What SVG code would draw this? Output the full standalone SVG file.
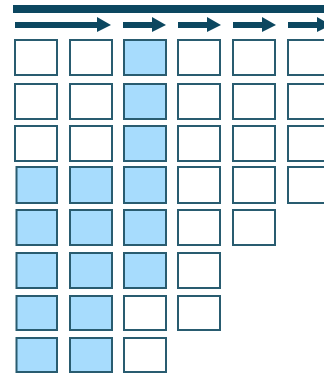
<svg xmlns="http://www.w3.org/2000/svg" width="324" height="375" viewBox="0 0 324 375">
<defs>
<style>
.b{stroke:#295c70;stroke-width:2;fill:#fff}
.f{fill:#a7dcfd}
.a{fill:#0c4760}
</style>
</defs>
<rect width="324" height="375" fill="#fff"/>
<g id="connectors">
<rect class="a" x="13" y="5" width="320" height="8"/>
<path class="a" d="M15 22H97V17L111 25L97 32V28H15Z"/>
<path class="a" d="M123 22H152V17L166 25L152 32V28H123Z"/>
<path class="a" d="M178 22H207V17L221 25L207 32V28H178Z"/>
<path class="a" d="M233 22H262V17L276 25L262 32V28H233Z"/>
<path class="a" d="M288 22H317V17L331 25L317 32V28H288Z"/>
</g>
<g id="row1">
<rect id="r1c1" class="b" x="15" y="40" width="42" height="35"/>
<rect id="r1c2" class="b" x="70" y="40" width="42" height="35"/>
<rect id="r1c3" class="b f" x="124" y="40" width="42" height="35"/>
<rect id="r1c4" class="b" x="178" y="40" width="42" height="35"/>
<rect id="r1c5" class="b" x="233" y="40" width="42" height="35"/>
<rect id="r1c6" class="b" x="288" y="40" width="42" height="35"/>
</g>
<g id="row2">
<rect id="r2c1" class="b" x="15" y="84" width="42" height="35"/>
<rect id="r2c2" class="b" x="70" y="84" width="42" height="35"/>
<rect id="r2c3" class="b f" x="124" y="84" width="42" height="35"/>
<rect id="r2c4" class="b" x="178" y="84" width="42" height="35"/>
<rect id="r2c5" class="b" x="233" y="84" width="42" height="35"/>
<rect id="r2c6" class="b" x="288" y="84" width="42" height="35"/>
</g>
<g id="row3">
<rect id="r3c1" class="b" x="15" y="126" width="42" height="35"/>
<rect id="r3c2" class="b" x="70" y="126" width="42" height="35"/>
<rect id="r3c3" class="b f" x="124" y="126" width="42" height="35"/>
<rect id="r3c4" class="b" x="178" y="126" width="42" height="35"/>
<rect id="r3c5" class="b" x="233" y="126" width="42" height="35"/>
<rect id="r3c6" class="b" x="288" y="126" width="42" height="35"/>
</g>
<g id="row4">
<rect id="r4c1" class="b f" x="16.5" y="167" width="40.5" height="36"/>
<rect id="r4c2" class="b f" x="70" y="167" width="42" height="36"/>
<rect id="r4c3" class="b f" x="124" y="167" width="42" height="36"/>
<rect id="r4c4" class="b" x="178" y="167" width="42" height="36"/>
<rect id="r4c5" class="b" x="233" y="167" width="42" height="36"/>
<rect id="r4c6" class="b" x="288" y="167" width="42" height="36"/>
</g>
<g id="row5">
<rect id="r5c1" class="b f" x="16.5" y="210" width="40.5" height="35"/>
<rect id="r5c2" class="b f" x="70" y="210" width="42" height="35"/>
<rect id="r5c3" class="b f" x="124" y="210" width="42" height="35"/>
<rect id="r5c4" class="b" x="178" y="210" width="42" height="35"/>
<rect id="r5c5" class="b" x="233" y="210" width="42" height="35"/>
</g>
<g id="row6">
<rect id="r6c1" class="b f" x="16.5" y="253" width="40.5" height="35"/>
<rect id="r6c2" class="b f" x="70" y="253" width="42" height="35"/>
<rect id="r6c3" class="b f" x="124" y="253" width="42" height="35"/>
<rect id="r6c4" class="b" x="178" y="253" width="42" height="35"/>
</g>
<g id="row7">
<rect id="r7c1" class="b f" x="16.5" y="296" width="40.5" height="34"/>
<rect id="r7c2" class="b f" x="70" y="296" width="42" height="34"/>
<rect id="r7c3" class="b" x="124" y="296" width="42" height="34"/>
<rect id="r7c4" class="b" x="178" y="296" width="42" height="34"/>
</g>
<g id="row8">
<rect id="r8c1" class="b f" x="16.5" y="338" width="40.5" height="34"/>
<rect id="r8c2" class="b f" x="70" y="338" width="42" height="34"/>
<rect id="r8c3" class="b" x="124" y="338" width="42" height="34"/>
</g>
</svg>
